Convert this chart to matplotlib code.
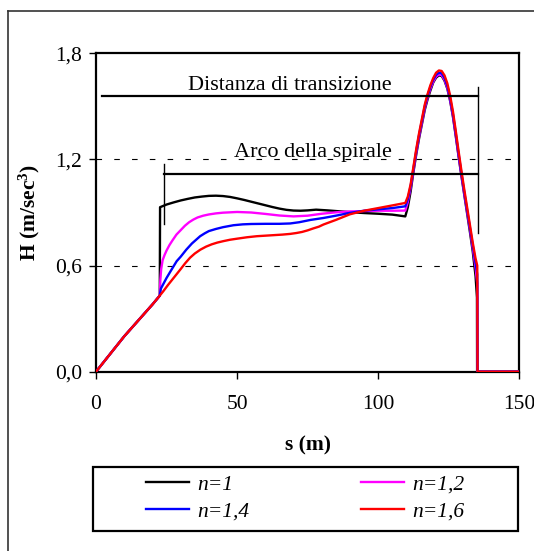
import matplotlib
matplotlib.use("Agg")
import matplotlib.pyplot as plt
from matplotlib.lines import Line2D
from matplotlib.patches import Rectangle

plt.rcParams['font.family'] = ['Liberation Serif', 'DejaVu Serif']
plt.rcParams['mathtext.fontset'] = 'custom'
plt.rcParams['mathtext.rm'] = 'Liberation Serif'
plt.rcParams['mathtext.bf'] = 'Liberation Serif:bold'
plt.rcParams['mathtext.it'] = 'Liberation Serif:italic'

# ---------------- data ----------------
# common initial linear part
s_start = [0, 5, 10, 15, 20, 22.6]
h_start = [0.0, 0.10, 0.20, 0.29, 0.38, 0.43]

# peak region grid (shared x)
s_peak = [110.5, 111.5, 112.5, 113.5, 114.5, 115.5, 116.5, 117.5, 118.5, 119.5,
          120.5, 121.5, 122.5, 123.5, 124.5, 125.5, 126.5, 127.5, 128.5, 129.5,
          130.5, 131.5, 132.5, 133.5, 134.5]

# n = 1
s_n1_mid = [22.7, 25, 27.5, 30, 32.5, 35, 37.5, 40, 42.5, 45, 47.5, 50, 52.5, 55, 57.5,
            60, 62.5, 65, 67.5, 70, 72.5, 75, 78, 82, 86, 90, 95, 100, 105, 109.6]
h_n1_mid = [0.93, 0.945, 0.957, 0.968, 0.977, 0.985, 0.99, 0.994, 0.995, 0.993, 0.988,
            0.98, 0.971, 0.961, 0.951, 0.941, 0.931, 0.922, 0.915, 0.911, 0.91, 0.912,
            0.916, 0.912, 0.907, 0.902, 0.897, 0.893, 0.888, 0.878]
h_n1_peak = [0.93, 1.02, 1.13, 1.23, 1.32, 1.40, 1.48, 1.54, 1.59, 1.635, 1.662, 1.675,
             1.672, 1.645, 1.60, 1.53, 1.44, 1.33, 1.215, 1.105, 1.00, 0.895, 0.79,
             0.68, 0.54]
s_n1_end = [135.0, 135.05, 150]
h_n1_end = [0.42, 0.0, 0.0]

# n = 1,2
s_n12_mid = [22.8, 23.1, 23.6, 24.3, 25, 26, 27, 28.5, 30, 31.5, 33, 34.5, 36, 38, 40,
             42.5, 45, 50, 55, 60, 65, 70, 75, 80, 85, 90, 95, 100, 105, 109.6]
h_n12_mid = [0.52, 0.58, 0.63, 0.66, 0.685, 0.715, 0.74, 0.775, 0.80, 0.825, 0.845, 0.86,
             0.872, 0.882, 0.889, 0.895, 0.899, 0.903, 0.90, 0.892, 0.883, 0.878, 0.882,
             0.893, 0.901, 0.906, 0.908, 0.91, 0.91, 0.911]
h_n12_peak = [0.96, 1.04, 1.14, 1.24, 1.33, 1.41, 1.49, 1.55, 1.60, 1.64, 1.668, 1.68,
              1.677, 1.65, 1.605, 1.535, 1.445, 1.335, 1.22, 1.11, 1.005, 0.905, 0.805,
              0.70, 0.59]
s_n12_end = [135.1, 135.2, 150]
h_n12_end = [0.50, 0.0, 0.0]

# n = 1,4
s_n14_mid = [23, 24, 25, 26.5, 28.6, 30, 32, 34, 36.9, 38.5, 40, 42.5, 45, 48.7, 52, 55,
             60, 65, 68.8, 72, 76, 80.6, 85, 90, 95, 100, 105, 109.6]
h_n14_mid = [0.47, 0.50, 0.53, 0.57, 0.625, 0.65, 0.69, 0.725, 0.766, 0.782, 0.795,
             0.807, 0.817, 0.828, 0.833, 0.835, 0.836, 0.836, 0.838, 0.845, 0.858, 0.869,
             0.882, 0.898, 0.91, 0.918, 0.925, 0.935]
h_n14_peak = [0.975, 1.05, 1.15, 1.25, 1.34, 1.42, 1.50, 1.56, 1.61, 1.65, 1.678, 1.69,
              1.687, 1.66, 1.615, 1.545, 1.455, 1.345, 1.23, 1.12, 1.015, 0.915, 0.815,
              0.715, 0.615]
s_n14_end = [135.1, 135.2, 150]
h_n14_end = [0.55, 0.0, 0.0]

# n = 1,6
s_n16_mid = [23.9, 25.5, 27, 28.5, 30, 31.6, 33.3, 35, 37, 39, 41, 43, 45.1, 47.5, 50,
             53.5, 57, 60, 63, 66, 68.8, 71, 73, 75, 77, 79, 80.6, 85, 90, 95, 100, 105,
             109.6]
h_n16_mid = [0.456, 0.49, 0.52, 0.55, 0.58, 0.613, 0.644, 0.668, 0.69, 0.707, 0.72,
             0.73, 0.738, 0.746, 0.752, 0.76, 0.766, 0.769, 0.772, 0.775, 0.779, 0.784,
             0.79, 0.799, 0.81, 0.82, 0.832, 0.858, 0.89, 0.91, 0.925, 0.94, 0.954]
h_n16_peak = [0.99, 1.06, 1.16, 1.26, 1.35, 1.43, 1.51, 1.57, 1.62, 1.66, 1.69, 1.703,
              1.70, 1.675, 1.63, 1.56, 1.47, 1.36, 1.245, 1.135, 1.03, 0.93, 0.83, 0.73,
              0.64]
s_n16_end = [135.1, 135.2, 150]
h_n16_end = [0.60, 0.0, 0.0]

labels = ['n=1', 'n=1,2', 'n=1,4', 'n=1,6']
colors = ['#000000', '#FF00FF', '#0000FF', '#FF0000']

# annotation ranges
trans_s = [2.0, 135.5]
trans_h = 1.56
trans_v = [0.785, 1.61]
arc_s = [24.2, 135.5]
arc_h = 1.12
arc_v = [0.835, 1.175]

x_ticks = [0, 50, 100, 150]
y_ticks = [0.0, 0.6, 1.2, 1.8]
y_ticklabels = ['0,0', '0,6', '1,2', '1,8']
grid_levels = [0.6, 1.2]

# ---------------- figure ----------------
W, H = 534, 551
fig = plt.figure(figsize=(W / 100, H / 100), dpi=100)
L, R, T, B = 96, 519.3, 53.3, 371.7
ax = fig.add_axes([L / W, 1 - B / H, (R - L) / W, (B - T) / H])

series = [
    (s_n1_mid, h_n1_mid, h_n1_peak, s_n1_end, h_n1_end),
    (s_n12_mid, h_n12_mid, h_n12_peak, s_n12_end, h_n12_end),
    (s_n14_mid, h_n14_mid, h_n14_peak, s_n14_end, h_n14_end),
    (s_n16_mid, h_n16_mid, h_n16_peak, s_n16_end, h_n16_end),
]
handles = []
for (sm, hm, hp, se, he), lab, col in zip(series, labels, colors):
    xs = s_start + sm + s_peak + se
    ys = h_start + hm + hp + he
    ln, = ax.plot(xs, ys, color=col, lw=1.7, label=lab, solid_joinstyle='round', zorder=3)
    handles.append(ln)

for g in grid_levels:
    ax.axhline(g, color='black', lw=0.8, dashes=(5, 11), zorder=1)

# annotations
ax.plot(trans_s, [trans_h, trans_h], color='black', lw=1.6, zorder=4)
ax.plot([trans_s[1], trans_s[1]], trans_v, color='black', lw=1.0, zorder=4)
ax.plot(arc_s, [arc_h, arc_h], color='black', lw=1.6, zorder=4)
ax.plot([arc_s[0], arc_s[0]], arc_v, color='black', lw=1.0, zorder=4)
ax.text(68.7, 1.592, 'Distanza di transizione', fontsize=16, ha='center', va='baseline', zorder=5)
ax.text(77.0, 1.215, 'Arco della spirale', fontsize=16, ha='center', va='baseline', zorder=5)

ax.set_xlim(0, 150)
ax.set_ylim(0, 1.8)
ax.set_xticks(x_ticks)
ax.set_yticks(y_ticks)
ax.set_yticklabels(y_ticklabels)
ax.tick_params(axis='both', direction='out', length=5, width=1.0, labelsize=15.5)
ax.tick_params(axis='x', pad=12)
ax.tick_params(axis='y', pad=5)
for sp in ax.spines.values():
    sp.set_linewidth(1.6)
ax.set_xlabel('s (m)', fontsize=15.5, fontweight='bold')
ax.set_ylabel(r'H (m/sec$^\mathbf{3}$)', fontsize=15.5, fontweight='bold')
ax.xaxis.set_label_coords(0.5, -0.2)
ax.yaxis.set_label_coords(-0.128, 0.5)

# legend
order = [0, 2, 1, 3]
leg = fig.legend([handles[i] for i in order], [labels[i] for i in order], ncol=2,
                 loc='center', bbox_to_anchor=(305 / W, 1 - 498 / H), frameon=False,
                 prop={'family': 'Liberation Serif', 'style': 'italic', 'size': 15.5},
                 handlelength=2.0, handletextpad=0.37, columnspacing=5.2,
                 labelspacing=0.3)
fig.add_artist(Rectangle((93.3 / W, 1 - 531 / H), (518.3 - 93.3) / W, (531 - 467) / H,
                         transform=fig.transFigure, fill=False, edgecolor='black', lw=1.6))

# outer frame (left and top edges visible)
fig.add_artist(Line2D([8 / W, 8 / W], [0, 1 - 11 / H], transform=fig.transFigure,
                      color='#333333', lw=1.2))
fig.add_artist(Line2D([8 / W, 1], [1 - 11 / H, 1 - 11 / H], transform=fig.transFigure,
                      color='#333333', lw=1.2))

fig.savefig('out.png', dpi=100)
